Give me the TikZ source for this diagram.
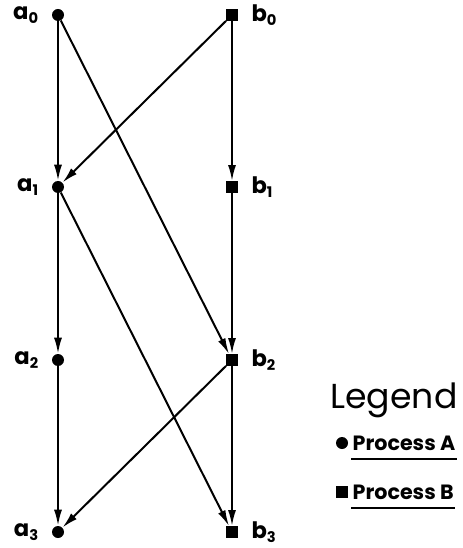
\documentclass[tikz,border=0pt]{standalone}
\usepackage{fontspec}
\setmainfont{Poppins}
\usetikzlibrary{arrows.meta}

\newcommand{\sub}[1]{\raisebox{-0.3ex}{\fontsize{11}{12}\selectfont #1}}

\tikzset{
  procA/.style={circle,fill=black,inner sep=0pt,minimum size=9pt},
  procB/.style={rectangle,fill=black,inner sep=0pt,minimum size=8.5pt},
  evt/.style={font=\fontsize{17}{19}\selectfont\bfseries,inner sep=0pt,label distance=10pt},
  msg/.style={line width=1.5pt,-{Latex[length=12pt,width=6pt]}},
  legtxt/.style={font=\fontsize{15.5}{17}\selectfont\bfseries,anchor=west,inner sep=1pt}
}

\begin{document}
\begin{tikzpicture}[x=0.75pt,y=-0.75pt]
\useasboundingbox (0,0) rectangle (462,548);

% Process A events (left column)
\node[procA,label={[evt]left:a\sub{0}}] (a0) at (58,15) {};
\node[procA,label={[evt]left:a\sub{1}}] (a1) at (58,187) {};
\node[procA,label={[evt]left:a\sub{2}}] (a2) at (58,360) {};
\node[procA,label={[evt]left:a\sub{3}}] (a3) at (58,532) {};

% Process B events (right column)
\node[procB,label={[evt]right:b\sub{0}}] (b0) at (232,15) {};
\node[procB,label={[evt]right:b\sub{1}}] (b1) at (232,187) {};
\node[procB,label={[evt]right:b\sub{2}}] (b2) at (232,360) {};
\node[procB,label={[evt]right:b\sub{3}}] (b3) at (232,532) {};

% Local order within each process
\foreach \i/\j in {0/1,1/2,2/3} {
  \draw[msg] (a\i) -- (a\j);
  \draw[msg] (b\i) -- (b\j);
}

% Messages between the processes
\draw[msg] (a0) -- (b2);
\draw[msg] (a1) -- (b3);
\draw[msg] (b0) -- (a1);
\draw[msg] (b2) -- (a3);

% Legend
\node[font=\fontsize{26}{30}\selectfont] (leg) at (394,400) {Legend};
\node[procA,minimum size=9pt] (legA) at (342,443) {};
\node[legtxt] (txtA) at (351,443) {Process A};
\draw[line width=1.5pt] ([yshift=-5pt]txtA.south west) -- ([yshift=-5pt]txtA.south east);
\node[procB,minimum size=8.5pt] (legB) at (342,492) {};
\node[legtxt] (txtB) at (351,492) {Process B};
\draw[line width=1.5pt] ([yshift=-5pt]txtB.south west) -- ([yshift=-5pt]txtB.south east);

\end{tikzpicture}
\end{document}
